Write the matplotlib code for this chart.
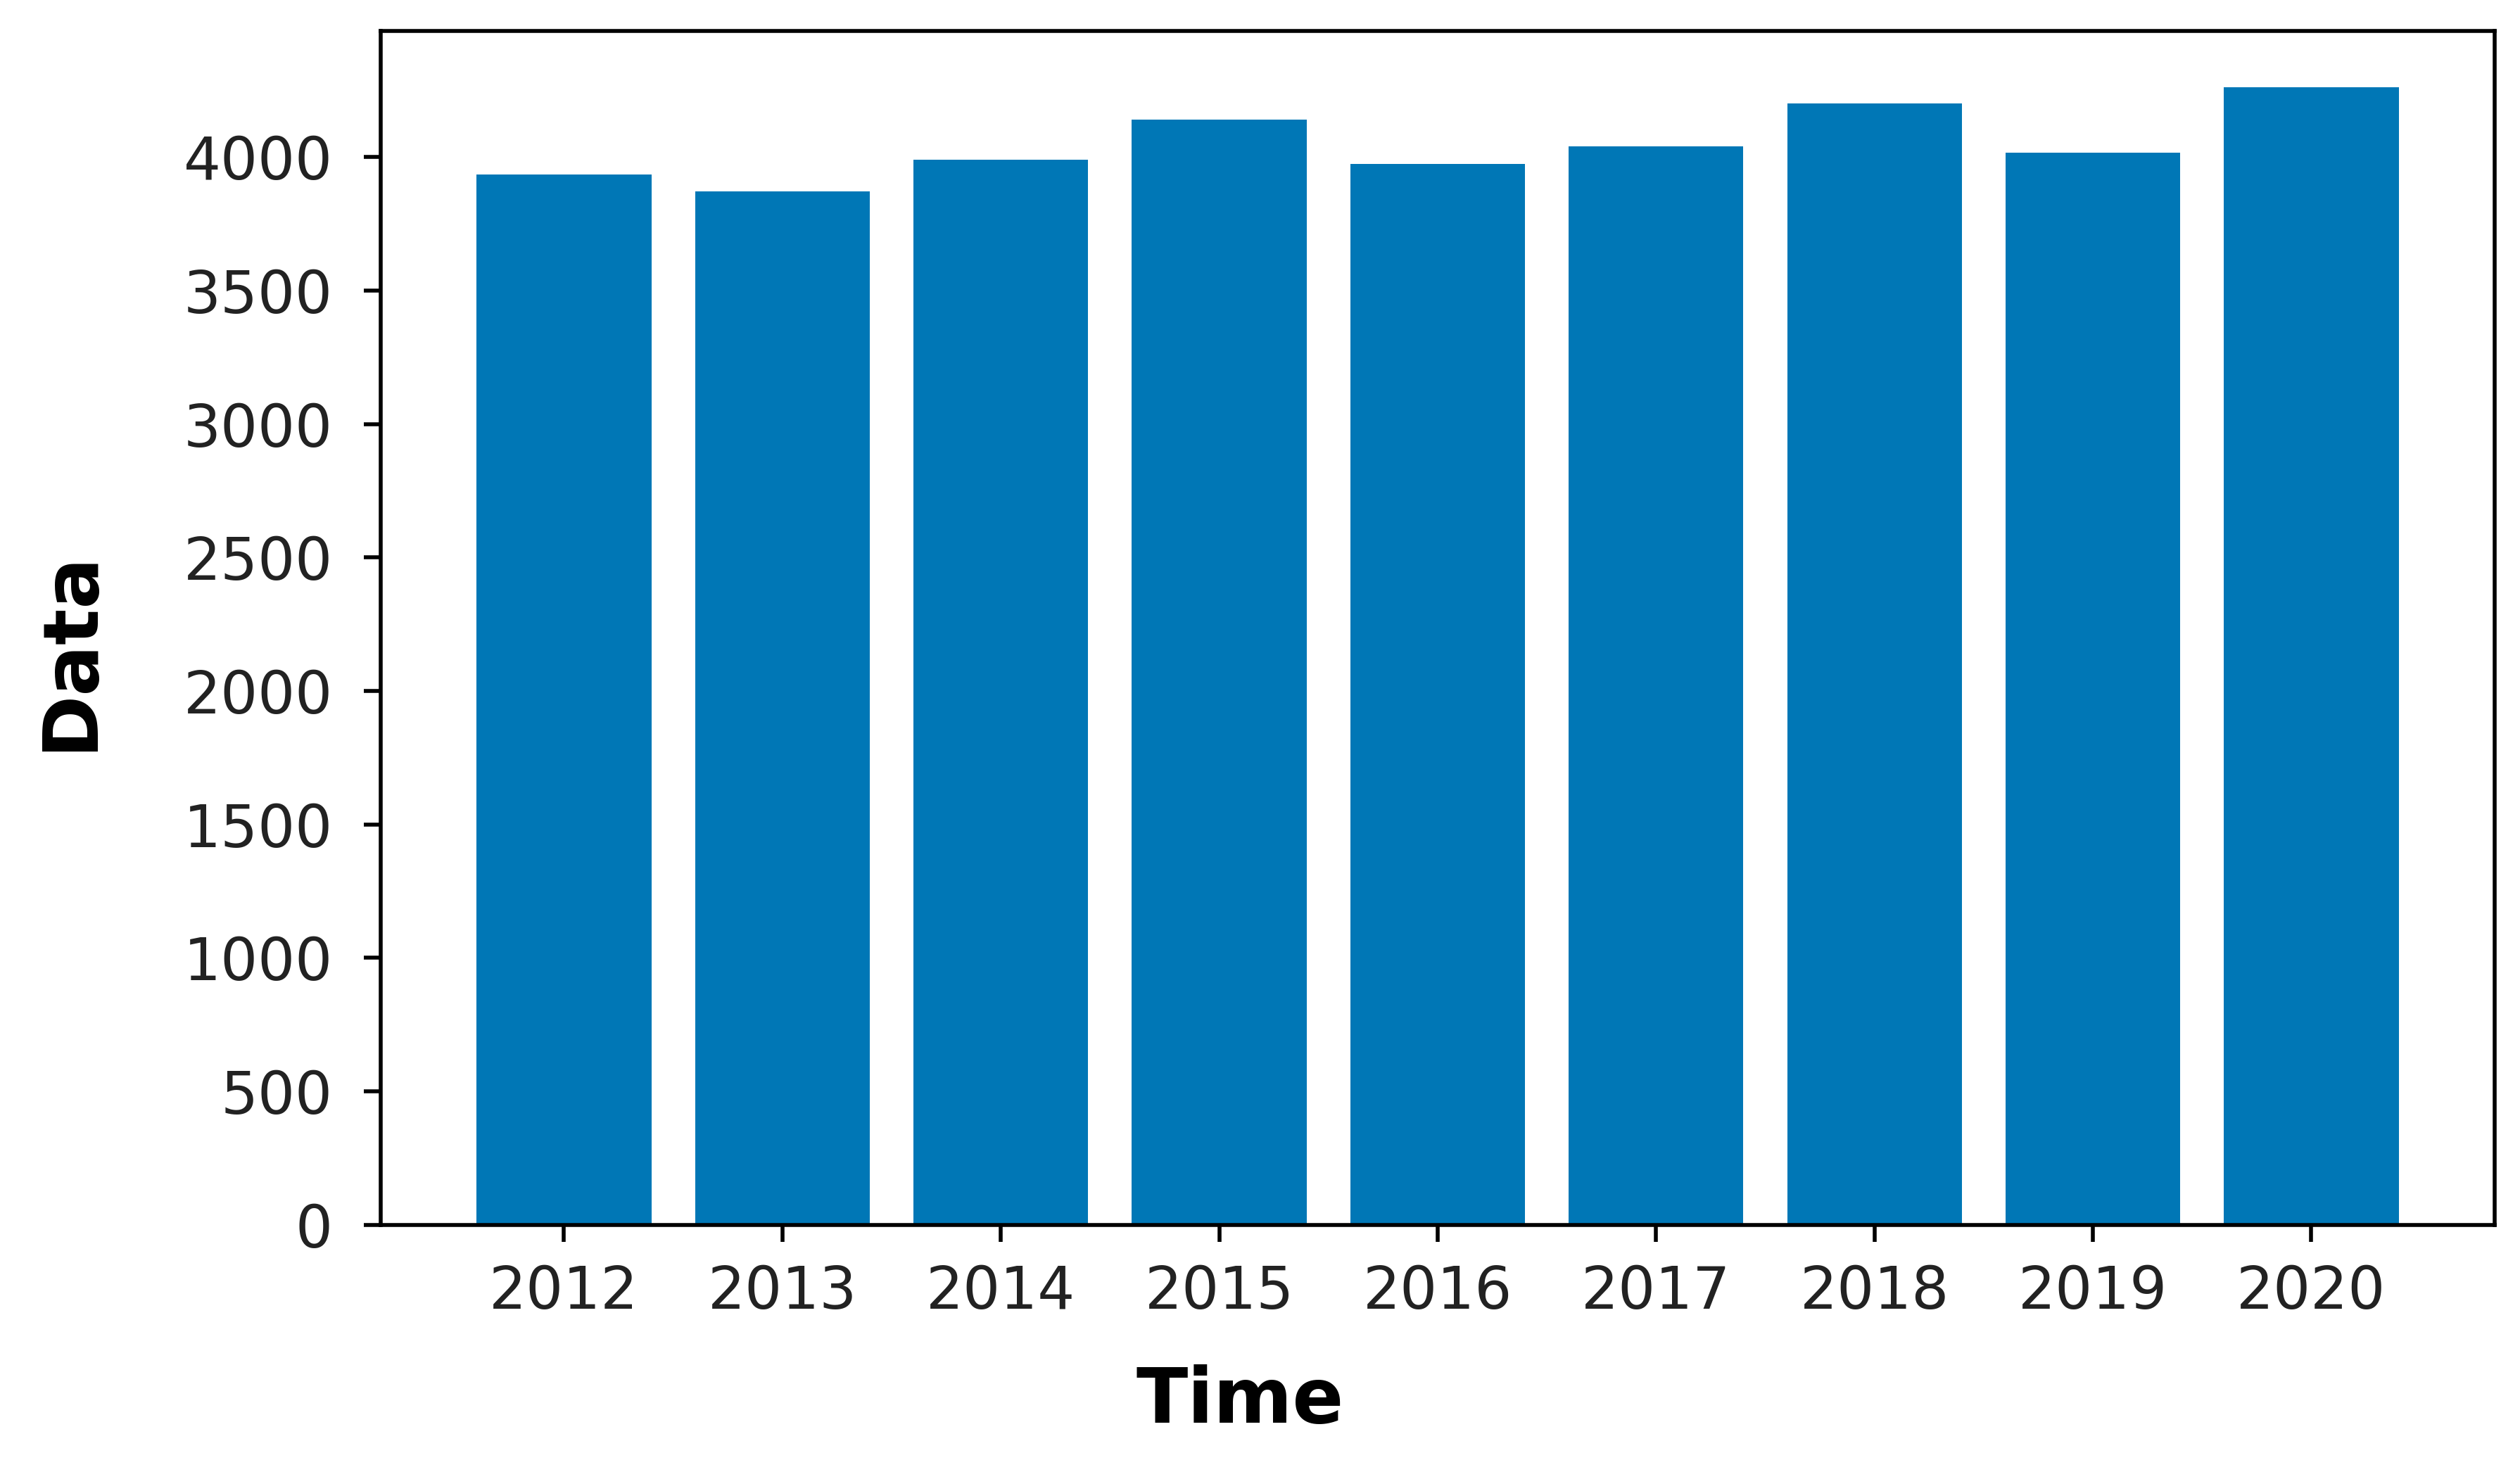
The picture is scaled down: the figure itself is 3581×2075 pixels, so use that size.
import matplotlib
matplotlib.use("Agg")
import matplotlib.pyplot as plt

years = [2012, 2013, 2014, 2015, 2016, 2017, 2018, 2019, 2020]
values = [3935, 3870, 3990, 4140, 3975, 4040, 4200, 4015, 4260]
bar_color = "#0077b6"


def main():
    fig = plt.figure(figsize=(3581 / 500, 2075 / 500), dpi=500)
    ax = fig.add_axes([0.151, 0.161, 0.839, 0.818])

    ax.bar(years, values, width=0.8, color=bar_color)
    ax.set_xticks(years)
    ax.set_yticks(range(0, 4001, 500))
    ax.tick_params(labelsize=12, labelcolor="#222222")
    ax.tick_params(axis="x", pad=4.5)
    ax.tick_params(axis="y", pad=6.3)

    fig.text(0.028, 0.554, "Data", rotation=90, fontsize=15.5, fontweight="bold",
             ha="center", va="center")
    fig.text(0.492, 0.040, "Time", fontsize=15.5, fontweight="bold",
             ha="center", va="center")

    fig.savefig("out.png", dpi=500)


if __name__ == '__main__':
    main()
